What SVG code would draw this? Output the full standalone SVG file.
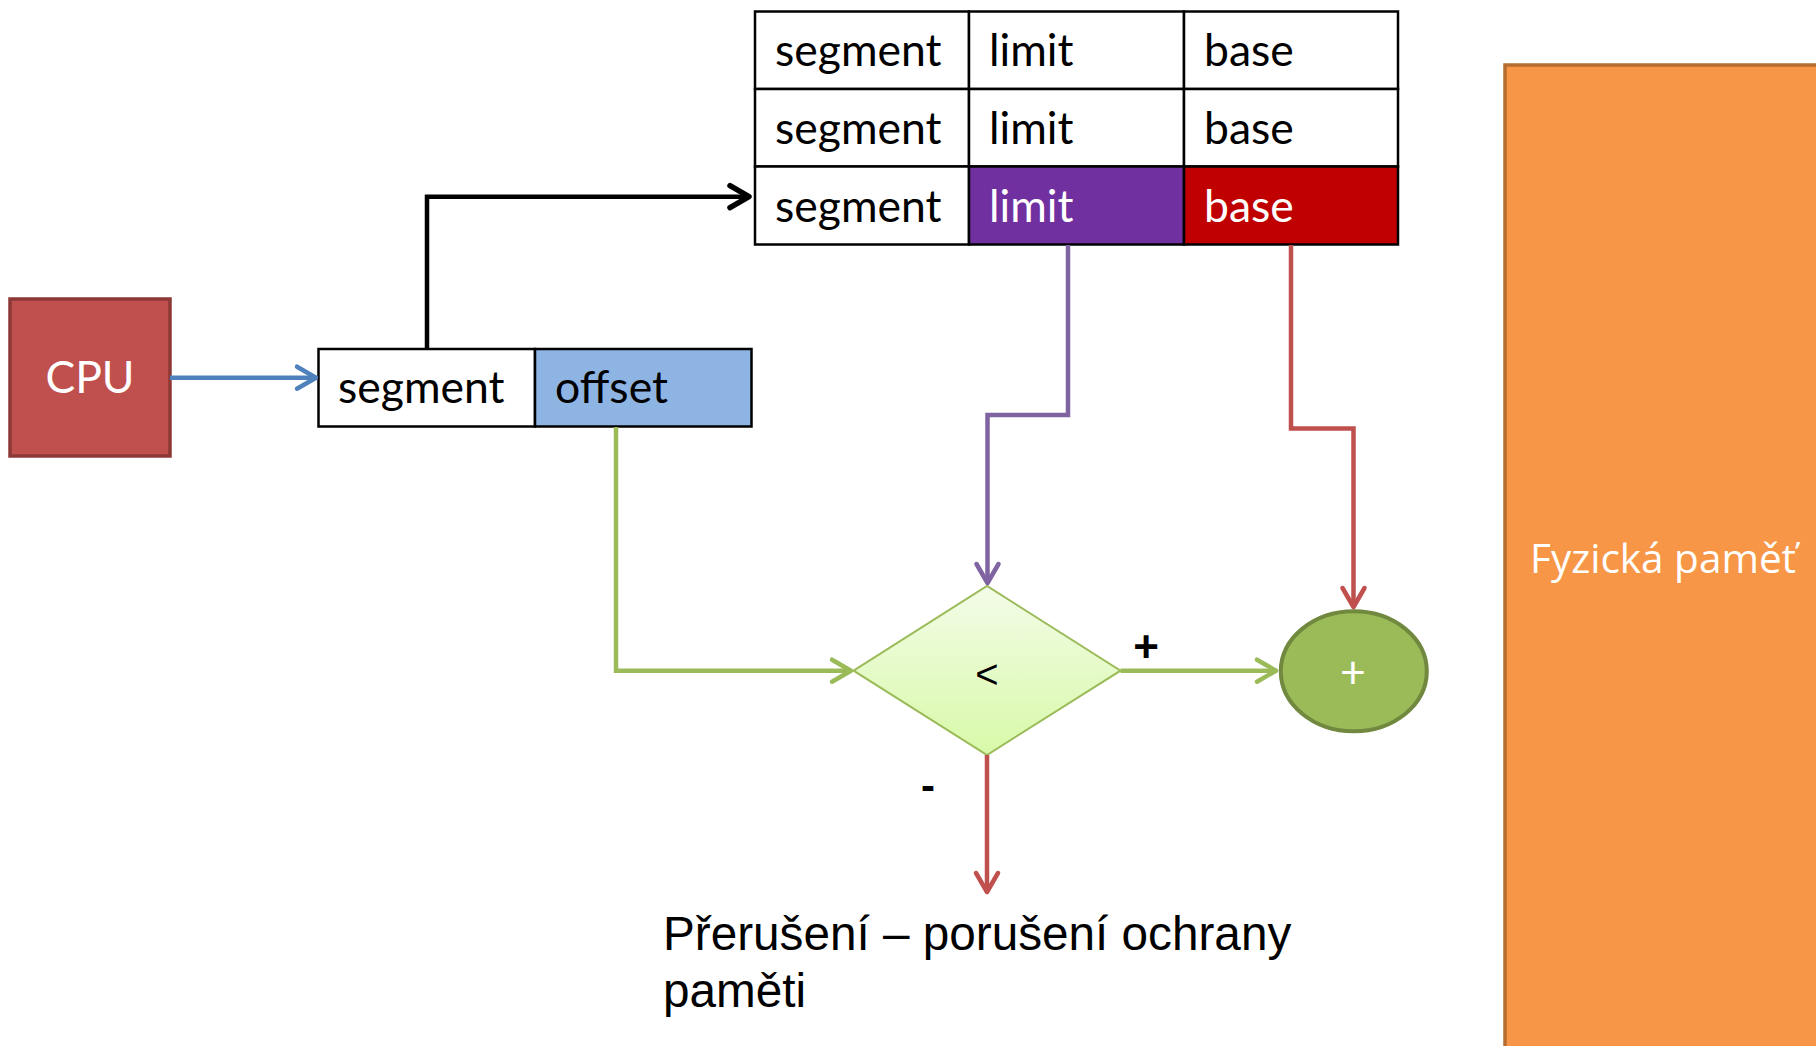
<svg xmlns="http://www.w3.org/2000/svg" width="1816" height="1046" viewBox="0 0 1816 1046">
<style>
.cal{font-family:Lato,"Open Sans","Liberation Sans",sans-serif;font-size:44.5px}
.blk{fill:#000}
.wht{fill:#fff}
.cell{stroke:#000;stroke-width:2.5}
.ar{font-family:"Liberation Sans",Arial,sans-serif}
.conn{fill:none;stroke-width:4.5;stroke-linejoin:miter}
</style>
<defs>
<linearGradient id="dg" x1="0" y1="0" x2="0" y2="1">
<stop offset="0" stop-color="#F3FCE8"/>
<stop offset="1" stop-color="#D8F9A8"/>
</linearGradient>
<marker id="mBlue" markerUnits="userSpaceOnUse" markerWidth="34" markerHeight="34" viewBox="-26 -17 34 34" refX="0" refY="0" orient="auto"><path d="M-19,-11 L0,0 L-19,11" fill="none" stroke="#4F81BD" stroke-width="4.5" stroke-linecap="round" stroke-linejoin="round"/></marker>
<marker id="mBlack" markerUnits="userSpaceOnUse" markerWidth="34" markerHeight="34" viewBox="-26 -17 34 34" refX="0" refY="0" orient="auto"><path d="M-19,-11 L0,0 L-19,11" fill="none" stroke="#000" stroke-width="5.5" stroke-linecap="round" stroke-linejoin="round"/></marker>
<marker id="mPurple" markerUnits="userSpaceOnUse" markerWidth="34" markerHeight="34" viewBox="-26 -17 34 34" refX="0" refY="0" orient="auto"><path d="M-19,-11 L0,0 L-19,11" fill="none" stroke="#8064A2" stroke-width="4.5" stroke-linecap="round" stroke-linejoin="round"/></marker>
<marker id="mRed" markerUnits="userSpaceOnUse" markerWidth="34" markerHeight="34" viewBox="-26 -17 34 34" refX="0" refY="0" orient="auto"><path d="M-19,-11 L0,0 L-19,11" fill="none" stroke="#C0504D" stroke-width="4.5" stroke-linecap="round" stroke-linejoin="round"/></marker>
<marker id="mGreen" markerUnits="userSpaceOnUse" markerWidth="34" markerHeight="34" viewBox="-26 -17 34 34" refX="0" refY="0" orient="auto"><path d="M-19,-11 L0,0 L-19,11" fill="none" stroke="#9BBB59" stroke-width="4.5" stroke-linecap="round" stroke-linejoin="round"/></marker>
</defs>
<rect width="1816" height="1046" fill="#fff"/>

<g id="memory">
<rect x="1505" y="65" width="330" height="1000" fill="#F79646" stroke="#B66D31" stroke-width="3.5"/>
<text x="1530" y="573" class="wht" font-family="'Open Sans','Liberation Sans',sans-serif" font-size="40.5">Fyzická paměť</text>
</g>

<g id="cpu">
<rect x="10" y="299" width="160" height="157" fill="#C0504D" stroke="#8C3836" stroke-width="3.5"/>
<text x="90" y="393" class="cal wht" text-anchor="middle" font-size="39">CPU</text>
</g>

<g id="address">
<rect x="318.5" y="349" width="216.5" height="77.5" fill="#fff" class="cell"/>
<rect x="535" y="349" width="216.5" height="77.5" fill="#8DB4E2" class="cell"/>
<text x="338" y="403" class="cal blk">segment</text>
<text x="555" y="403" class="cal blk">offset</text>
</g>

<g id="segment-table">
<rect x="755" y="11.5" width="214" height="77.5" fill="#fff" class="cell"/>
<rect x="969" y="11.5" width="215" height="77.5" fill="#fff" class="cell"/>
<rect x="1184" y="11.5" width="214" height="77.5" fill="#fff" class="cell"/>
<rect x="755" y="89" width="214" height="77.5" fill="#fff" class="cell"/>
<rect x="969" y="89" width="215" height="77.5" fill="#fff" class="cell"/>
<rect x="1184" y="89" width="214" height="77.5" fill="#fff" class="cell"/>
<rect x="755" y="166.5" width="214" height="78" fill="#fff" class="cell"/>
<rect x="969" y="166.5" width="215" height="78" fill="#7030A0" class="cell"/>
<rect x="1184" y="166.5" width="214" height="78" fill="#C00000" class="cell"/>
<text x="775" y="66" class="cal blk">segment</text>
<text x="989" y="66" class="cal blk">limit</text>
<text x="1204" y="66" class="cal blk">base</text>
<text x="775" y="143.5" class="cal blk">segment</text>
<text x="989" y="143.5" class="cal blk">limit</text>
<text x="1204" y="143.5" class="cal blk">base</text>
<text x="775" y="221.5" class="cal blk">segment</text>
<text x="989" y="221.5" class="cal wht">limit</text>
<text x="1204" y="221.5" class="cal wht">base</text>
</g>

<g id="compare">
<polygon points="853.6,670.7 987,586 1120.5,670.7 987,755" fill="url(#dg)" stroke="#9BBB59" stroke-width="2"/>
<text x="987" y="688" class="ar blk" font-size="40" text-anchor="middle">&lt;</text>
</g>

<g id="adder">
<ellipse cx="1353.8" cy="671.3" rx="73" ry="60" fill="#9BBB59" stroke="#71893F" stroke-width="4"/>
<text x="1353" y="688" class="cal wht" font-size="42" text-anchor="middle">+</text>
</g>

<g id="connectors">
<path class="conn" d="M170,377.7 H316" stroke="#4F81BD" marker-end="url(#mBlue)"/>
<path class="conn" d="M427,349 V196.7 H749" stroke="#000" stroke-width="5.5" marker-end="url(#mBlack)"/>
<path class="conn" d="M1068,245 V415 H987.5 V583" stroke="#8064A2" marker-end="url(#mPurple)"/>
<path class="conn" d="M1291,245 V428.5 H1353.5 V607" stroke="#C0504D" marker-end="url(#mRed)"/>
<path class="conn" d="M616,427 V670.7 H851" stroke="#9BBB59" marker-end="url(#mGreen)"/>
<path class="conn" d="M1120.5,670.7 H1276" stroke="#9BBB59" marker-end="url(#mGreen)"/>
<path class="conn" d="M987,755 V892" stroke="#C0504D" marker-end="url(#mRed)"/>
<text x="1146" y="662" class="ar blk" font-size="44" font-weight="bold" text-anchor="middle">+</text>
<text x="928" y="800" class="ar blk" font-size="42" font-weight="bold" text-anchor="middle">-</text>
</g>

<g id="interrupt">
<text x="663" y="950" class="ar blk" font-size="47.7">Přerušení – porušení ochrany</text>
<text x="663" y="1007" class="ar blk" font-size="47.7">paměti</text>
</g>
</svg>
